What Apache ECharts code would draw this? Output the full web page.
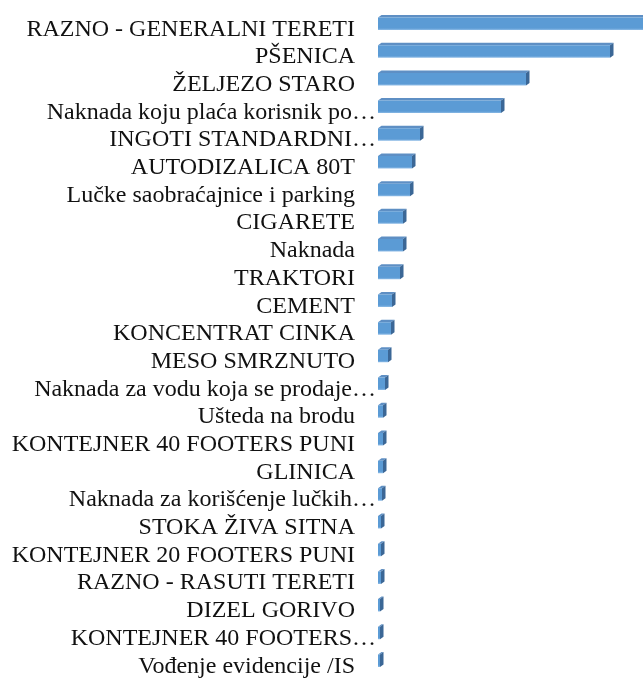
<!DOCTYPE html>
<html>
<head>
<meta charset="utf-8">
<script src="https://cdn.jsdelivr.net/npm/echarts@6/dist/echarts.min.js"></script>
<style>
html,body{margin:0;padding:0;background:#fff;}
#chart{width:643px;height:679px;}
</style>
</head>
<body>
<div id="chart"></div>
<script>
var categories = [
  "RAZNO - GENERALNI TERETI",
  "PŠENICA",
  "ŽELJEZO STARO",
  "Naknada koju plaća korisnik po…",
  "INGOTI STANDARDNI…",
  "AUTODIZALICA 80T",
  "Lučke saobraćajnice i parking",
  "CIGARETE",
  "Naknada",
  "TRAKTORI",
  "CEMENT",
  "KONCENTRAT CINKA",
  "MESO SMRZNUTO",
  "Naknada za vodu koja se prodaje…",
  "Ušteda na brodu",
  "KONTEJNER 40 FOOTERS PUNI",
  "GLINICA",
  "Naknada za korišćenje lučkih…",
  "STOKA ŽIVA SITNA",
  "KONTEJNER 20 FOOTERS PUNI",
  "RAZNO - RASUTI TERETI",
  "DIZEL GORIVO",
  "KONTEJNER 40 FOOTERS…",
  "Vođenje evidencije /IS"
];
var values = [290, 232, 148, 123, 42, 34, 32, 25, 25, 22, 14, 13, 10, 7, 5, 5, 5, 4, 3, 3, 3, 2, 2, 2];
var axisMax = 265;

var chart = echarts.init(document.getElementById('chart'));
var frontFill = new echarts.graphic.LinearGradient(0, 0, 0, 1, [
  {offset: 0, color: '#5B9BD5'},
  {offset: 0.85, color: '#5B9BD5'},
  {offset: 1, color: '#8DBBE6'}
]);
var FF = '"Liberation Serif","Times New Roman",serif';
chart.setOption({
  animation: false,
  grid: {left: 378, right: 0, top: 9.9, bottom: 4.4, containLabel: false},
  xAxis: {type: 'value', min: 0, max: axisMax, show: false},
  yAxis: {
    type: 'category', data: categories, inverse: true,
    axisLine: {show: false}, axisTick: {show: false}, splitLine: {show: false},
    axisLabel: {
      interval: 0,
      hideOverlap: false,
      margin: 2,
      fontFamily: FF,
      fontSize: 24,
      color: '#111',
      formatter: function (v) {
        return v.charAt(v.length - 1) === '…' ? '{e|' + v + '}' : '{n|' + v + '}';
      },
      rich: {
        e: {fontFamily: FF, fontSize: 24, color: '#111', padding: [11, 0, 0, 0]},
        n: {fontFamily: FF, fontSize: 24, color: '#111', padding: [11, 21, 0, 0]}
      }
    }
  },
  series: [{
    type: 'custom',
    clip: true,
    encode: {x: 0, y: 1},
    data: values.map(function (v, i) { return [v, i]; }),
    renderItem: function (params, api) {
      var idx = api.value(1);
      var v = api.value(0);
      var p0 = api.coord([0, idx]);
      var p1 = api.coord([v, idx]);
      var h = 12.5, dx = 3.5, dy = 2.5;
      var x0 = p0[0], x1 = p1[0];
      var yT = p0[1] - h / 2, yB = p0[1] + h / 2;
      return {
        type: 'group',
        children: [
          {type: 'polygon', shape: {points: [[x0, yT], [x0 + dx, yT - dy], [x1 + dx, yT - dy], [x1, yT]]}, style: {fill: '#5E8FC4'}},
          {type: 'polygon', shape: {points: [[x1, yT], [x1 + dx, yT - dy], [x1 + dx, yB - dy], [x1, yB]]}, style: {fill: '#3B6796'}},
          {type: 'rect', shape: {x: x0, y: yT, width: Math.max(x1 - x0, 0), height: h}, style: {fill: frontFill}}
        ]
      };
    }
  }]
});
</script>
</body>
</html>
